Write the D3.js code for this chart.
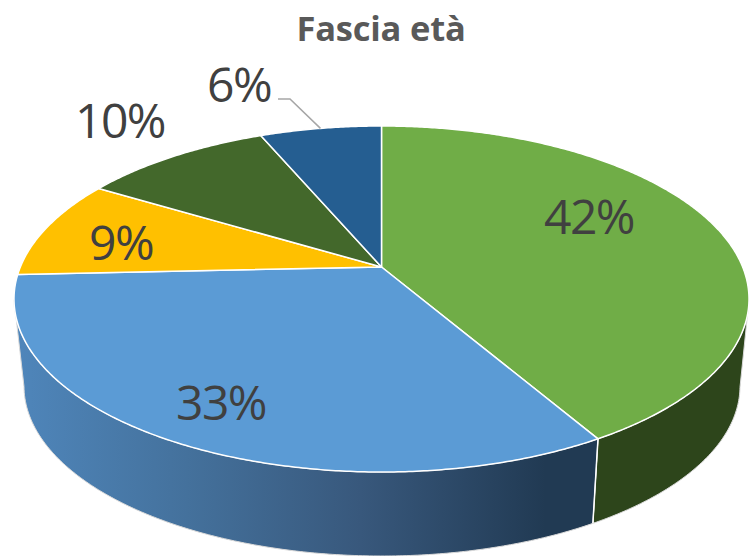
<!DOCTYPE html>
<html><head><meta charset="utf-8">
<script src="https://cdn.jsdelivr.net/npm/d3@7/dist/d3.min.js"></script>
<style>html,body{margin:0;padding:0;background:#fff}svg{display:block}</style>
</head><body><svg id="c" width="749" height="556"></svg>
<script>
const categories = ["A","B","C","D","E"];
const shares = [41.6,32.7,9.3,10.0,6.4];
const labels = ["42%","33%","9%","10%","6%"];
const topColors = ["#70ad47","#5b9bd5","#ffc000","#43682b","#255e91"];
const title = "Fascia età";

const W=749,H=556;
const top_={cx:381.5,cy:299,rx:367.5,ry:173};
const bot={cx:382,cy:386,rx:358,ry:170};
const a=-0.185, k=Math.sqrt(1-a*a);
const labelPos=[[589,217],[221,403],[121,243],[120,121],[239,85]];

function unit(th){ // th clockwise from top; disk automorphism gives the perspective
  const u=Math.sin(th), v=-Math.cos(th);
  return [u*k/(1+a*v),(v+a)/(1+a*v)];
}
const proj=(e,th)=>{const p=unit(th);return [e.cx+e.rx*p[0],e.cy+e.ry*p[1]];};
const apex=[top_.cx,top_.cy+top_.ry*a];

const svg=d3.select("#c");
const defs=svg.append("defs");
const grad=defs.append("linearGradient").attr("id","sideBlue")
  .attr("gradientUnits","userSpaceOnUse").attr("x1",14).attr("x2",592).attr("y1",0).attr("y2",0);
[[0,"#4f86bb"],[0.3,"#44719c"],[0.6,"#38587c"],[0.92,"#213a53"],[1,"#213a53"]]
  .forEach(s=>grad.append("stop").attr("offset",s[0]).attr("stop-color",s[1]));

const pie=d3.pie().sort(null).value(d=>d)(shares);
const line=d3.line();
const sideFill=["#2d451b","url(#sideBlue)"];

function samples(s,e){return d3.range(0,241).map(i=>s+(e-s)*i/240).filter(t=>unit(t)[1]>=0);}

// extruded rim
pie.slice(0,2).forEach((d,i)=>{
  const ts=samples(d.startAngle,d.endAngle);
  const pts=ts.map(t=>proj(top_,t)).concat(ts.slice().reverse().map(t=>proj(bot,t)));
  svg.append("path").attr("d",line(pts)+"Z")
    .attr("fill",sideFill[i]).attr("stroke","#d9d9d9").attr("stroke-width",1).attr("stroke-linejoin","round");
});
// white seam between the two rim faces
const seamT=pie[0].endAngle;
svg.append("path").attr("d",line([proj(top_,seamT),proj(bot,seamT)]))
  .attr("stroke","#fff").attr("stroke-width",1.5).attr("fill","none");

// top surface
pie.forEach((d,i)=>{
  const n=Math.max(8,Math.round((d.endAngle-d.startAngle)*120));
  const arc=d3.range(n+1).map(j=>proj(top_,d.startAngle+(d.endAngle-d.startAngle)*j/n));
  svg.append("path").attr("d",line([apex].concat(arc))+"Z")
    .attr("fill",topColors[i]).attr("stroke","#fff").attr("stroke-width",1.5).attr("stroke-linejoin","round");
});

// leader line of the smallest slice
const lead=pie[4];
const tip=proj(top_,lead.startAngle+(lead.endAngle-lead.startAngle)*0.5);
svg.append("path").attr("d",line([[278,99],[290,99],tip]))
  .attr("fill","none").attr("stroke","#a6a6a6").attr("stroke-width",1.5);

const font="'Open Sans', sans-serif";
svg.selectAll("text.lab").data(labels).join("text").attr("class","lab")
  .attr("x",(d,i)=>labelPos[i][0]).attr("y",(d,i)=>labelPos[i][1]+17)
  .attr("text-anchor","middle").attr("font-family",font).attr("font-size",48)
  .attr("letter-spacing",-1.5)
  .attr("fill","#404040").text(d=>d);
svg.append("text").attr("x",381).attr("y",41).attr("text-anchor","middle")
  .attr("font-family",font).attr("font-weight",700).attr("font-size",34.5)
  .attr("letter-spacing",-0.2)
  .attr("fill","#595959").text(title);
</script></body></html>
